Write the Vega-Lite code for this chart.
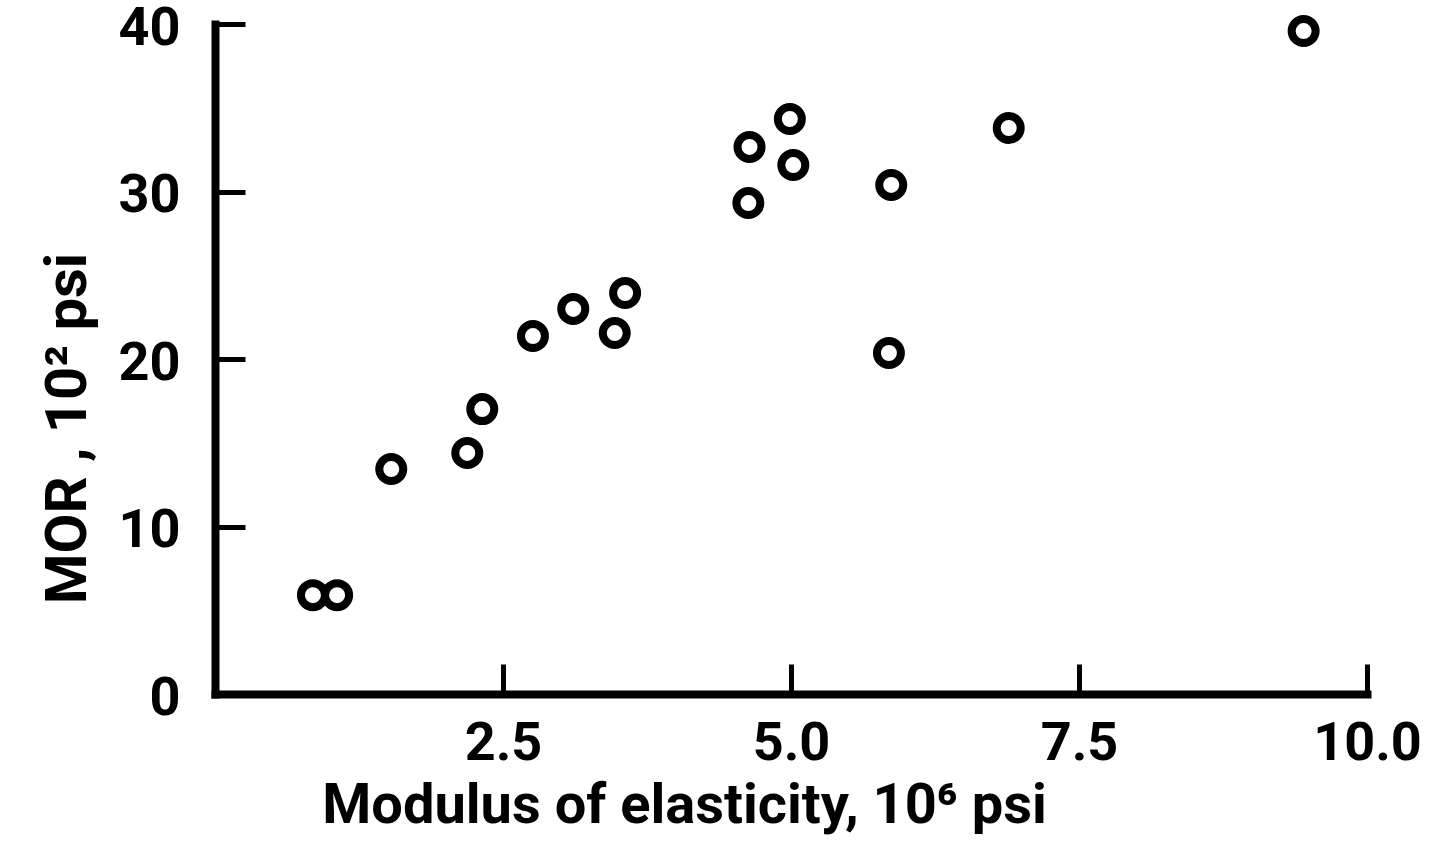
{
  "$schema": "https://vega.github.io/schema/vega-lite/v6.json",
  "width": 1152,
  "height": 670,
  "autosize": {"type": "none"},
  "padding": {"left": 215, "top": 24, "right": 76, "bottom": 159},
  "background": "white",
  "config": {"view": {"stroke": null}},
  "data": {
    "values": [
      {"moe": 0.85, "mor": 5.9},
      {"moe": 1.06, "mor": 5.9},
      {"moe": 1.53, "mor": 13.43},
      {"moe": 2.19, "mor": 14.39},
      {"moe": 2.32, "mor": 17.01},
      {"moe": 2.76, "mor": 21.37},
      {"moe": 3.11, "mor": 22.99},
      {"moe": 3.47, "mor": 21.55},
      {"moe": 3.56, "mor": 23.94},
      {"moe": 4.64, "mor": 32.66},
      {"moe": 4.63, "mor": 29.31},
      {"moe": 4.99, "mor": 34.33},
      {"moe": 5.02, "mor": 31.58},
      {"moe": 5.87, "mor": 30.39},
      {"moe": 5.85, "mor": 20.36},
      {"moe": 6.89, "mor": 33.79},
      {"moe": 9.45, "mor": 39.58}
    ]
  },
  "mark": {"type": "point", "shape": "circle", "filled": false, "size": 576, "strokeWidth": 8, "color": "black", "opacity": 1},
  "encoding": {
    "x": {
      "field": "moe",
      "type": "quantitative",
      "scale": {"domain": [0, 10], "nice": false, "zero": false},
      "axis": {
        "values": [2.5, 5, 7.5, 10],
        "format": ".1f",
        "grid": false,
        "domainWidth": 8,
        "domainColor": "black",
        "domainCap": "square",
        "tickColor": "black",
        "tickWidth": 5,
        "tickSize": -30,
        "labelPadding": 52,
        "labelFont": "Roboto",
        "labelFontSize": 54,
        "labelFontWeight": "bold",
        "labelColor": "black",
        "labelBaseline": "top",
        "labelFlush": false,
        "labelOverlap": false,
        "title": "Modulus of elasticity, 10⁶ psi",
        "titleFont": "Roboto",
        "titleFontSize": 56,
        "titleFontWeight": "bold",
        "titleColor": "black",
        "titleAnchor": "start",
        "titleAlign": "center",
        "titleBaseline": "alphabetic",
        "titleX": 469,
        "titleY": 128
      }
    },
    "y": {
      "field": "mor",
      "type": "quantitative",
      "scale": {"domain": [0, 40], "nice": false, "zero": false},
      "axis": {
        "values": [0, 10, 20, 30, 40],
        "grid": false,
        "domainWidth": 8,
        "domainColor": "black",
        "domainCap": "square",
        "tickColor": "black",
        "tickWidth": 5,
        "tickSize": -30,
        "labelPadding": 65,
        "labelOffset": 4,
        "labelFont": "Roboto",
        "labelFontSize": 54,
        "labelFontWeight": "bold",
        "labelColor": "black",
        "labelBaseline": "middle",
        "labelFlush": false,
        "labelOverlap": false,
        "title": "MOR , 10² psi",
        "titleFont": "Roboto",
        "titleFontSize": 58,
        "titleFontWeight": "bold",
        "titleColor": "black",
        "titleAngle": -90,
        "titleAlign": "center",
        "titleBaseline": "middle",
        "titleX": -147,
        "titleY": 404
      }
    }
  }
}
